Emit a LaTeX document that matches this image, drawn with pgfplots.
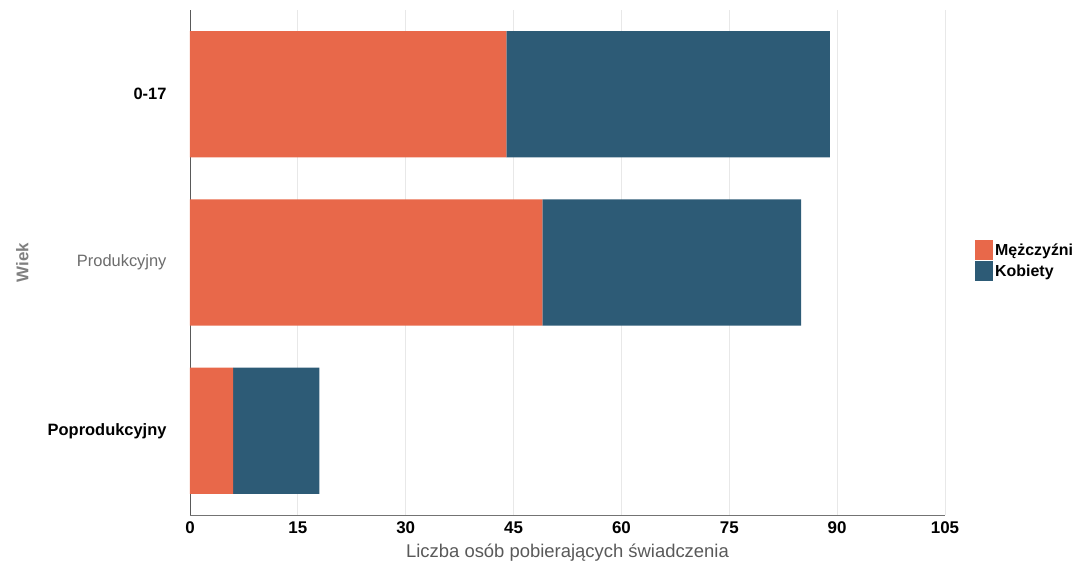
\documentclass[border=0pt]{standalone}
\usepackage{fontspec}
\setmainfont{Liberation Sans}
\usepackage{pgfplots}
\pgfplotsset{compat=1.18}
\definecolor{morange}{HTML}{E8684A}
\definecolor{mblue}{HTML}{2D5B76}
\definecolor{gridc}{HTML}{E8E8E8}
\begin{document}
\begin{tikzpicture}
\path[use as bounding box] (-190bp,-65bp) rectangle (902bp,515bp);
\begin{axis}[
  at={(0,0)}, anchor=south west,
  scale only axis, width=755bp, height=505bp,
  xbar stacked, bar width=0.75,
  xmin=0, xmax=105, xtick={0,15,...,105},
  ymin=-0.5, ymax=2.5, y dir=reverse,
  ytick={0,1,2},
  yticklabels={{\bfseries 0-17},{\color{gray!85!black}Produkcyjny},{\bfseries Poprodukcyjny}},
  xmajorgrids, grid style={gridc, line width=0.8pt},
  axis x line*=bottom, axis y line*=left,
  x axis line style={draw=black!55, line width=0.8pt, -},
  y axis line style={draw=black!65, line width=0.8pt, -},
  major tick length=0pt,
  tick style={draw=none},
  /pgf/number format/assume math mode=true,
  xticklabel style={font=\fontsize{17}{20}\selectfont\bfseries, yshift=-3bp},
  yticklabel style={font=\fontsize{16.5}{20}\selectfont, xshift=-20bp},
  xlabel={Liczba osób pobierających świadczenia},
  xlabel style={font=\fontsize{18.5}{22}\selectfont, text=black!65, yshift=-4bp},
  ylabel={Wiek},
  ylabel style={at={(axis description cs:0,0.5)}, anchor=south, yshift=158bp,
    font=\fontsize{17}{20}\selectfont\bfseries, text=black!50},
  legend style={at={(1,0.5)}, anchor=west, xshift=30bp, yshift=2bp, draw=none, fill=none,
    font=\fontsize{16}{16}\selectfont\bfseries, row sep=1bp, inner sep=0pt,
    legend cell align=left, /tikz/every even column/.append style={column sep=2bp}},
  legend image code/.code={\fill[#1] (0bp,-10bp) rectangle (18bp,10bp);},
]
\addplot[fill=morange, draw=none] coordinates {(44,0) (49,1) (6,2)};
\addplot[fill=mblue, draw=none] coordinates {(45,0) (36,1) (12,2)};
\legend{Mężczyźni, Kobiety}
\end{axis}
\end{tikzpicture}
\end{document}
